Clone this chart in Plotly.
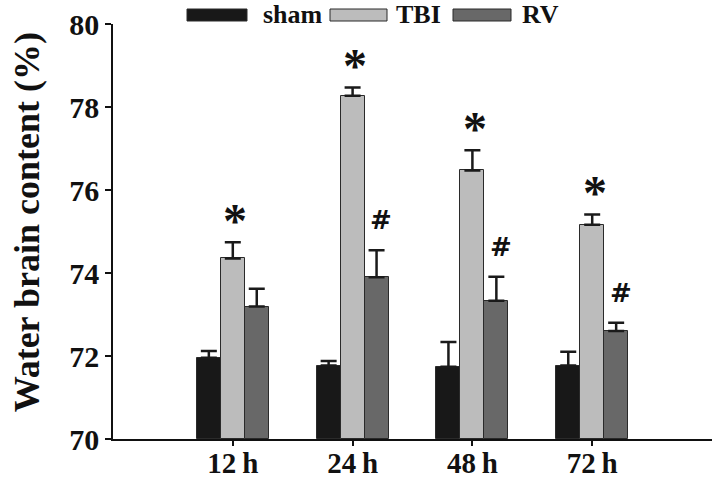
import plotly.graph_objects as go

categories = ["12\u2009h", "24\u2009h", "48\u2009h", "72\u2009h"]
series_names = ["sham", "TBI", "RV"]
sham = [71.96, 71.77, 71.74, 71.77]
sham_err = [0.16, 0.11, 0.60, 0.33]
tbi = [74.35, 78.27, 76.47, 75.16]
tbi_err = [0.39, 0.20, 0.49, 0.25]
rv = [73.19, 73.90, 73.33, 72.60]
rv_err = [0.43, 0.65, 0.58, 0.20]
tbi_marks = ["*", "*", "*", "*"]
rv_marks = ["", "#", "#", "#"]
y_ticks = [70, 72, 74, 76, 78, 80]

colors = ["#181818", "#bcbcbc", "#686868"]
values = [sham, tbi, rv]
errors = [sham_err, tbi_err, rv_err]
offsets = [-0.2, 0.0, 0.2]
xpos = list(range(len(categories)))

SERIF = "Liberation Serif, Times New Roman, serif"

fig = go.Figure()
for name, vals, errs, col, off in zip(series_names, values, errors, colors, offsets):
    fig.add_trace(go.Bar(
        x=[p + off for p in xpos], y=[v - 70 for v in vals], base=70,
        width=0.2, name=name,
        marker=dict(color=col, line=dict(color="#2a2a2a", width=1)),
        error_y=dict(type="data", array=errs, symmetric=False, arrayminus=[0] * len(errs),
                     color="#1a1a1a", thickness=2.5, width=8),
        showlegend=False,
    ))

annotations = []
for i in xpos:
    if tbi_marks[i]:
        annotations.append(dict(x=i + 0.02, y=tbi[i] + tbi_err[i], xref="x", yref="y",
                                text="<b>" + tbi_marks[i] + "</b>", showarrow=False, yanchor="middle",
                                yshift=22, font=dict(family=SERIF, size=48, color="#111")))
    if rv_marks[i]:
        annotations.append(dict(x=offsets[2] + i + 0.04, y=rv[i] + rv_err[i], xref="x", yref="y",
                                text="<b>" + rv_marks[i] + "</b>", showarrow=False, yanchor="middle",
                                yshift=30, font=dict(family="DejaVu Serif", size=26, color="#111")))

W, H = 720, 479
L, T = 113, 24
PW, PH = 599, 415
R, B = W - L - PW, H - T - PH

# y axis title
annotations.append(dict(x=0, y=0.522, xref="paper", yref="paper", xshift=-86,
                        text="<b>Water brain content (%)</b>", textangle=-90, showarrow=False,
                        xanchor="center", yanchor="middle",
                        font=dict(family=SERIF, size=36, color="#111")))

# legend drawn manually (pixel positions in the page)
shapes = []
leg_box_x = [(187, 247), (330, 387), (453, 511)]
leg_text_x = [261, 394, 520]
def px(x):
    return (x - L) / PW
def py(y):
    return (H - B - y) / PH
for name, col, (x0, x1), tx in zip(series_names, colors, leg_box_x, leg_text_x):
    shapes.append(dict(type="rect", xref="paper", yref="paper", x0=px(x0), x1=px(x1),
                       y0=py(21), y1=py(9), fillcolor=col, line=dict(color="#2a2a2a", width=1)))
    annotations.append(dict(x=px(tx), y=py(15), xref="paper", yref="paper", text="<b>" + name + "</b>",
                            showarrow=False, xanchor="left", yanchor="middle",
                            font=dict(family=SERIF, size=26, color="#111")))

fig.update_layout(
    width=W, height=H,
    margin=dict(l=L, r=R, t=T, b=B, autoexpand=False),
    paper_bgcolor="white", plot_bgcolor="white",
    bargap=0, barmode="overlay",
    annotations=annotations, shapes=shapes,
    xaxis=dict(range=[-1, 4], tickmode="array", tickvals=xpos,
               ticktext=["<b>" + c + "</b>" for c in categories],
               showline=True, linecolor="#111", linewidth=1.5, ticks="outside", ticklen=5,
               tickwidth=1.5, tickcolor="#111", showgrid=False, zeroline=False, automargin=False,
               ticklabelstandoff=-8,
               tickfont=dict(family=SERIF, size=29, color="#111")),
    yaxis=dict(range=[70, 80], tickmode="array", tickvals=y_ticks,
               ticktext=["<b>%d</b>" % t for t in y_ticks],
               showline=True, linecolor="#111", linewidth=1.5, ticks="outside", ticklen=6,
               tickwidth=1.5, tickcolor="#111", showgrid=False, zeroline=False, automargin=False,
               tickfont=dict(family=SERIF, size=30, color="#111")),
)

fig.write_html("out.html", config={"displayModeBar": False},
               post_script="document.body.style.margin='0';document.body.style.overflow='hidden';")
